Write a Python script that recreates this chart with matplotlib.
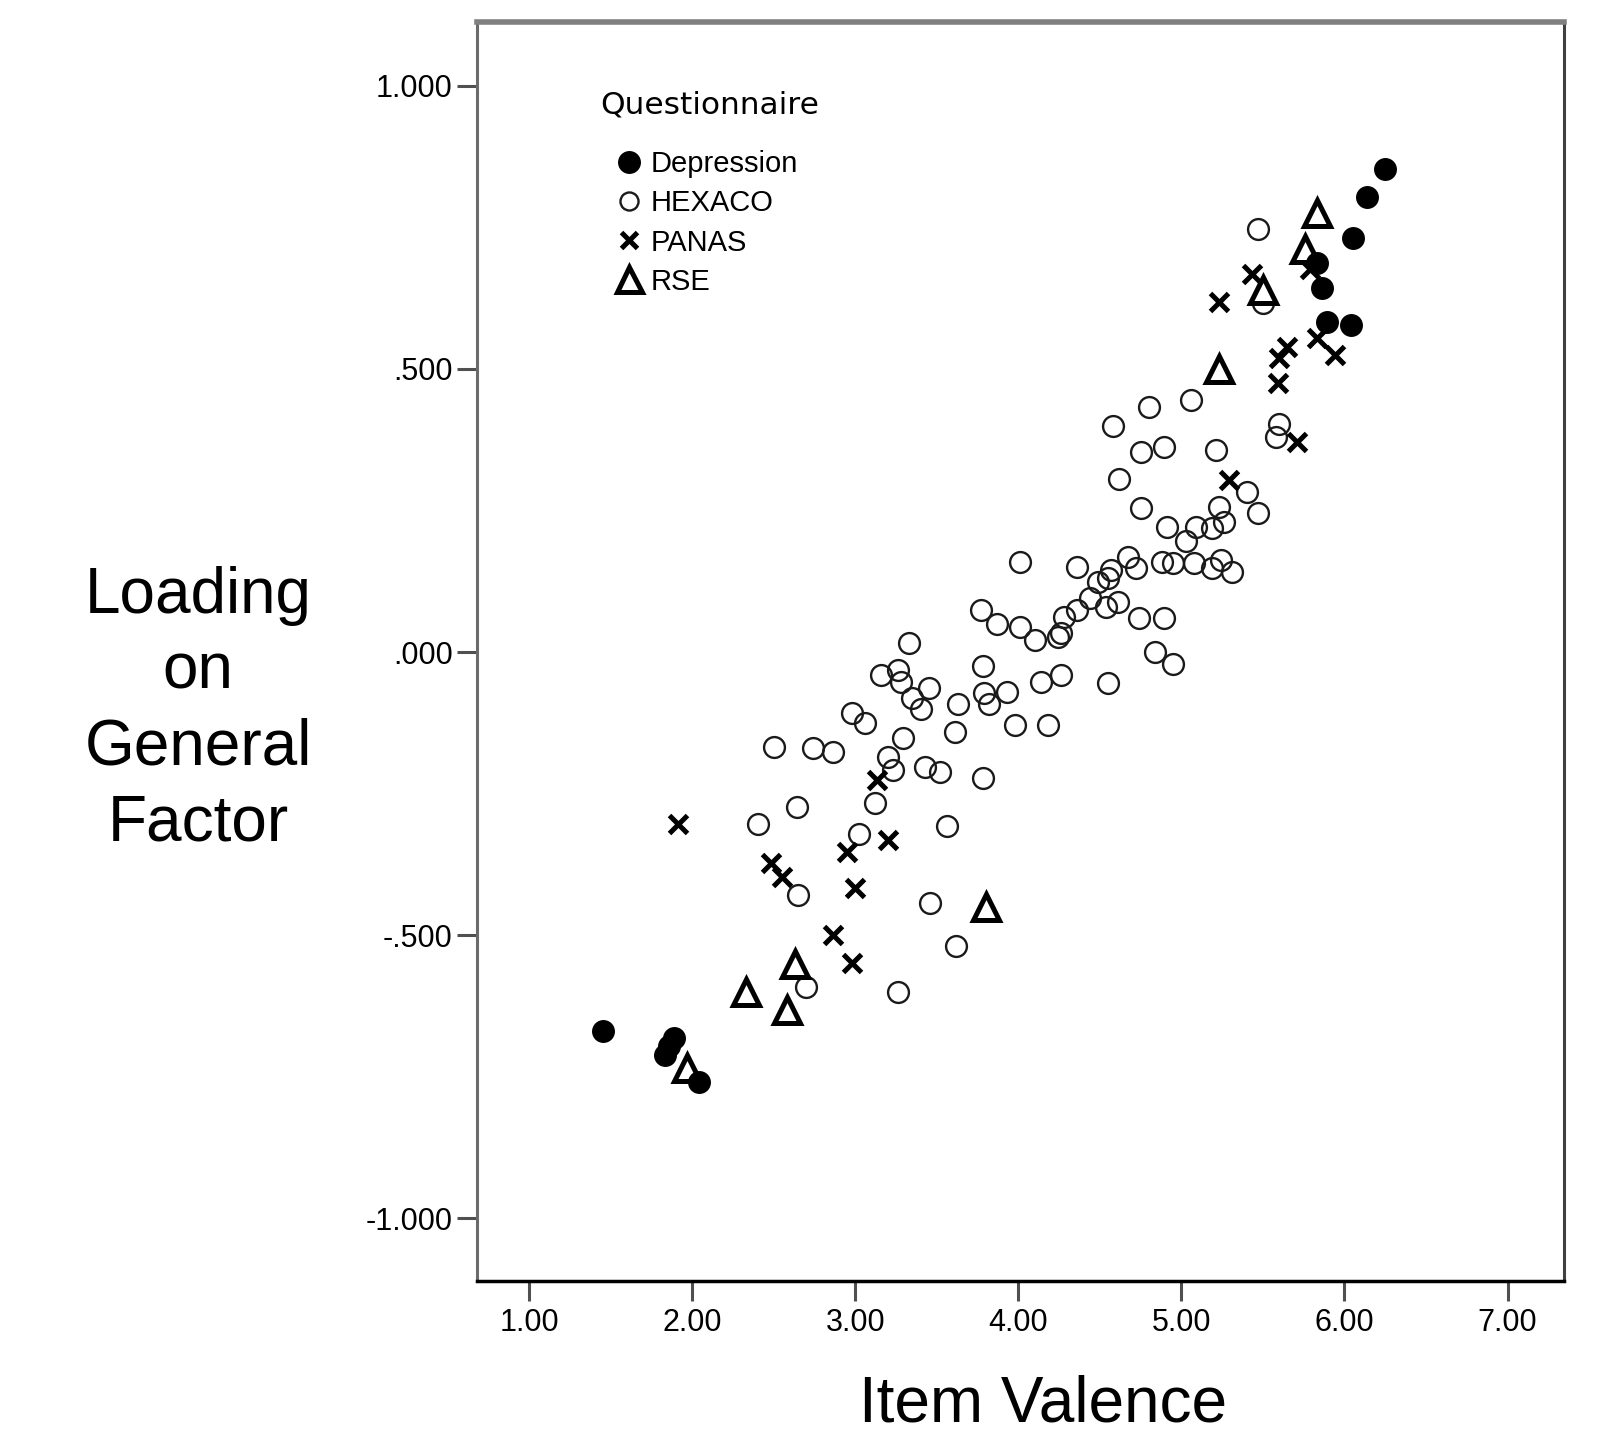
import numpy as np
import matplotlib.pyplot as plt
from matplotlib.lines import Line2D

plt.rcParams['font.family'] = ['Liberation Sans', 'DejaVu Sans']

# Item valence (x) and loading on the general factor (y), per questionnaire
dep_x = [6.25, 6.14, 6.05, 5.83, 5.86, 5.89, 6.04, 1.45, 1.89, 1.855, 1.83, 2.04]
dep_y = [0.853, 0.803, 0.732, 0.688, 0.643, 0.583, 0.578, -0.670, -0.681, -0.696, -0.712, -0.759]

hex_x = [5.47, 5.50, 5.06, 4.80, 4.58, 5.60, 5.58, 4.75, 4.89, 5.21,
         4.62, 4.75, 5.40, 5.47, 4.91, 5.23, 5.09, 5.19, 5.26, 5.03,
         4.88, 4.95, 5.08, 5.24, 5.31, 5.19, 4.01, 4.36, 4.67, 4.72,
         4.57, 4.55, 4.49, 4.44, 4.36, 4.28, 4.26, 4.54, 4.61, 4.74,
         4.89, 3.77, 3.87, 4.01, 4.10, 4.24, 3.33, 4.84, 4.95, 4.55,
         4.26, 4.14, 3.78, 3.79, 3.93, 3.82, 3.63, 3.16, 3.26, 3.28,
         3.45, 3.35, 3.40, 2.98, 3.06, 3.29, 3.20, 3.23, 3.61, 3.98,
         4.18, 3.43, 3.52, 3.78, 2.50, 2.74, 2.86, 3.12, 2.64, 2.40,
         3.02, 3.56, 2.65, 3.46, 3.62, 2.70, 3.26]
hex_y = [0.748, 0.616, 0.446, 0.433, 0.399, 0.402, 0.379, 0.353, 0.362, 0.357,
         0.306, 0.255, 0.283, 0.246, 0.221, 0.257, 0.221, 0.219, 0.230, 0.196,
         0.159, 0.158, 0.158, 0.163, 0.141, 0.149, 0.159, 0.150, 0.167, 0.149,
         0.145, 0.130, 0.123, 0.096, 0.074, 0.062, 0.034, 0.080, 0.089, 0.060,
         0.060, 0.074, 0.049, 0.045, 0.022, 0.027, 0.016, 0.000, -0.022, -0.054,
         -0.040, -0.053, -0.025, -0.072, -0.071, -0.092, -0.091, -0.040, -0.031, -0.053,
         -0.063, -0.082, -0.101, -0.107, -0.125, -0.152, -0.185, -0.208, -0.141, -0.129,
         -0.129, -0.203, -0.212, -0.223, -0.167, -0.170, -0.176, -0.266, -0.274, -0.303,
         -0.322, -0.308, -0.429, -0.444, -0.520, -0.592, -0.600]

pan_x = [5.43, 5.23, 5.79, 5.65, 5.60, 5.83, 5.94, 5.59, 5.71, 5.29,
         3.13, 1.91, 2.48, 2.55, 2.95, 3.20, 3.00, 2.86, 2.98]
pan_y = [0.667, 0.618, 0.676, 0.538, 0.520, 0.555, 0.525, 0.476, 0.371, 0.304,
         -0.226, -0.304, -0.373, -0.397, -0.353, -0.332, -0.417, -0.500, -0.549]

rse_x = [5.83, 5.76, 5.50, 5.23, 3.80, 2.63, 2.33, 2.58, 1.97]
rse_y = [0.775, 0.712, 0.640, 0.500, -0.451, -0.551, -0.600, -0.632, -0.734]

x_ticks = [1, 2, 3, 4, 5, 6, 7]
x_tick_labels = ["1.00", "2.00", "3.00", "4.00", "5.00", "6.00", "7.00"]
y_ticks = [1.0, 0.5, 0.0, -0.5, -1.0]
y_tick_labels = ["1.000", ".500", ".000", "-.500", "-1.000"]

fig = plt.figure(figsize=(16.08, 14.34), dpi=100)
ax = fig.add_axes([0.2966, 0.1067, 0.6760, 0.8780])

ax.plot(hex_x, hex_y, "o", ms=15, mfc="none", mec="#1a1a1a", mew=1.7, zorder=2)
ax.plot(pan_x, pan_y, "x", ms=13, mec="black", mew=3.6, zorder=3)
ax.plot(rse_x, rse_y, "^", ms=19, mfc="white", mec="black", mew=3.6, zorder=4)
ax.plot(dep_x, dep_y, "o", ms=15.5, mfc="black", mec="black", mew=1, zorder=5)

ax.set_xlim(0.679, 7.346)
ax.set_ylim(-1.111, 1.113)
ax.set_xticks(x_ticks, x_tick_labels)
ax.set_yticks(y_ticks, y_tick_labels)
ax.tick_params(axis="both", direction="out", length=14.5, width=2.2,
               color="#505050", labelsize=22, pad=3)
ax.tick_params(axis="x", pad=5)

ax.spines["left"].set_color("#6b6b6b")
ax.spines["left"].set_linewidth(2.2)
ax.spines["top"].set_color("#808080")
ax.spines["top"].set_linewidth(4)
ax.spines["right"].set_color("#404040")
ax.spines["right"].set_linewidth(2.2)
ax.spines["bottom"].set_color("black")
ax.spines["bottom"].set_linewidth(2.5)

# legend
handles = [
    Line2D([], [], ls="none", marker="o", ms=15.5, mfc="black", mec="black"),
    Line2D([], [], ls="none", marker="o", ms=13, mfc="none", mec="#1a1a1a", mew=1.7),
    Line2D([], [], ls="none", marker="x", ms=12, mec="black", mew=3.6),
    Line2D([], [], ls="none", marker="^", ms=18, mfc="white", mec="black", mew=3.6),
]
ax.legend(handles, ["Depression", "HEXACO", "PANAS", "RSE"], loc="upper left",
          bbox_to_anchor=(0.124, 0.898), borderaxespad=0, borderpad=0,
          frameon=False, fontsize=21, handlelength=1.2, handletextpad=0.15,
          labelspacing=0.38)
ax.text(0.113, 0.934, "Questionnaire", transform=ax.transAxes, ha="left",
        va="center", fontsize=22.5, family="DejaVu Sans")

fig.text(198 / 1608, 0.505, "Loading\non\nGeneral\nFactor", ha="center",
         va="center", fontsize=46, linespacing=1.34)
fig.text(0.6486, 0.0084, "Item Valence", ha="center", va="baseline", fontsize=46)

fig.savefig("out.png", dpi=100)
